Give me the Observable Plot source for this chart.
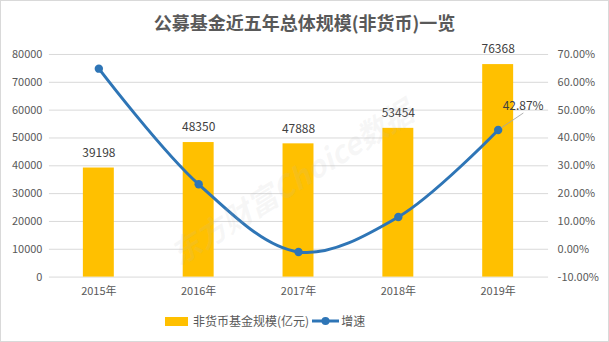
<!DOCTYPE html>
<html>
<head>
<meta charset="utf-8">
<script src="https://cdn.jsdelivr.net/npm/d3@7"></script>
<script src="https://cdn.jsdelivr.net/npm/@observablehq/plot@0.6"></script>
<style>
  body { margin: 0; background: #fff; }
  #wrap { position: relative; width: 609px; height: 342px; box-sizing: border-box; border: 1px solid #d9d9d9; background: #fff; overflow: hidden; font-family: 'Noto Sans CJK SC', 'Noto Sans', sans-serif; }
  #title { position: absolute; top: 8px; left: 0; width: 607px; text-align: center; font-size: 18px; font-weight: bold; color: #595959; line-height: 26px; }
  #chart { position: absolute; top: 39px; left: -1px; }
  #legend { position: absolute; top: 311px; left: 164px; font-size: 12px; color: #595959; display: flex; align-items: center; line-height: 18px; }
  #legend .item { display: flex; align-items: center; }
  #wm { position: absolute; left: 150px; top: 158px; transform: rotate(-32deg); transform-origin: 50% 50%; font-size: 30px; font-weight: bold; font-style: italic; color: rgba(185,185,185,0.13); white-space: nowrap; pointer-events: none; font-family: 'Noto Sans CJK SC', serif; }
</style>
</head>
<body>
<div id="wrap">
  <div id="title">公募基金近五年总体规模(非货币)一览</div>
  <div id="chart"></div>
  <div id="wm">东方财富Choice数据</div>
  <div id="legend">
    <span class="item"><svg width="23" height="9" style="margin-right:5px"><rect width="23" height="9" fill="#FFC000"/></svg><span id="l1"></span></span>
    <span class="item" style="margin-left:3px"><svg width="27" height="10" style="margin-right:2px"><line x1="0" y1="5" x2="27" y2="5" stroke="#2E75B6" stroke-width="3"/><circle cx="13.5" cy="5" r="4" fill="#2E75B6"/></svg><span id="l2"></span></span>
  </div>
</div>
<script>
const years = ["2015年", "2016年", "2017年", "2018年", "2019年"];
const fundScale = [39198, 48350, 47888, 53454, 76368];
const growth = [64.9, 23.35, -0.96, 11.62, 42.87];
const leftTicks = [0, 10000, 20000, 30000, 40000, 50000, 60000, 70000, 80000];
const rightTicks = [-10, 0, 10, 20, 30, 40, 50, 60, 70];
const seriesNames = ["非货币基金规模(亿元)", "增速"];

document.getElementById("l1").textContent = seriesNames[0];
document.getElementById("l2").textContent = seriesNames[1];

const data = years.map((y, i) => ({year: y, scale: fundScale[i], growth: growth[i]}));
const toLeft = g => (g + 10) * 1000;   // map right axis (-10%..70%) onto left (0..80000)
const last = data.filter((d, i) => i === data.length - 1);

const chart = Plot.plot({
  width: 609,
  height: 270,
  marginLeft: 49,
  marginRight: 60,
  marginTop: 14,
  marginBottom: 33,
  x: {domain: years, paddingInner: 0.69, paddingOuter: 0.345, label: null},
  y: {domain: [0, 80000], label: null},
  style: {fontFamily: "'Noto Sans CJK SC', 'Noto Sans', sans-serif", fontSize: "11px", color: "#595959", background: "transparent"},
  marks: [
    Plot.gridY(leftTicks, {stroke: "#d9d9d9", strokeOpacity: 1}),
    Plot.barY(data, {x: "year", y: "scale", fill: "#FFC000"}),
    Plot.axisY(leftTicks, {anchor: "left", tickSize: 0, tickPadding: 7, tickFormat: d => String(d), label: null}),
    Plot.axisY(rightTicks.map(toLeft), {anchor: "right", tickSize: 0, tickPadding: 9, tickFormat: d => (d / 1000 - 10).toFixed(2) + "%", label: null}),
    Plot.axisX({tickSize: 0, tickPadding: 10, label: null}),
    Plot.line(data, {x: "year", y: d => toLeft(d.growth), curve: "catmull-rom", stroke: "#2E75B6", strokeWidth: 3}),
    Plot.dot(data, {x: "year", y: d => toLeft(d.growth), r: 4.2, fill: "#2E75B6"}),
    Plot.text(data, {x: "year", y: "scale", text: d => String(d.scale), dy: -15, fill: "#404040", fontSize: 12}),
    Plot.vector(last, {x: "year", y: d => toLeft(d.growth), length: 30, rotate: 56, anchor: "start", stroke: "#a6a6a6", strokeWidth: 0.8,
      shape: {draw(ctx, l) { ctx.moveTo(0, -4); ctx.lineTo(0, -l); }}}),
    Plot.text(last, {x: "year", y: d => toLeft(d.growth), text: d => d.growth.toFixed(2) + "%", dx: 25, dy: -24, fill: "#404040", fontSize: 12})
  ]
});
document.getElementById("chart").appendChild(chart);
</script>
</body>
</html>
